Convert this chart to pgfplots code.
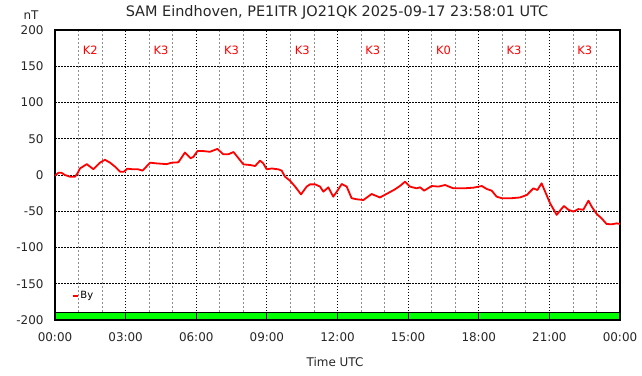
\documentclass[border=0pt]{standalone}
\usepackage{fontspec}
\setmainfont{DejaVu Sans}
\usepackage{pgfplots}
\pgfplotsset{compat=1.18}
\usepackage{pgfplotstable}

\pgfplotstableread{
h v
0.00 -1
0.14 3
0.28 3
0.42 0
0.64 -2.3
0.85 -2.3
0.95 2
1.06 9
1.35 15
1.63 8
1.91 17
2.12 21
2.34 17
2.55 11.5
2.76 4.6
2.93 4.6
3.07 8.7
3.33 7.8
3.54 7.8
3.72 6
4.04 17
4.32 16
4.74 15
4.96 17
5.24 17.5
5.52 31
5.76 23
5.88 25
6.05 33
6.30 33
6.58 32
6.90 36
7.15 28.5
7.36 28.5
7.58 31.7
7.75 25
8.00 14.7
8.28 13.8
8.50 12.4
8.71 19.8
8.85 16
8.99 7.8
9.20 9
9.49 7.8
9.63 6
9.77 -2.3
9.98 -7.8
10.20 -16
10.45 -26.7
10.69 -16
10.83 -12.9
11.05 -12.9
11.26 -16
11.40 -23
11.61 -17
11.82 -29.9
11.97 -23
12.18 -12.4
12.39 -16
12.60 -32
12.82 -33.5
13.10 -34.5
13.45 -26.2
13.80 -31
14.09 -26
14.44 -19.8
14.65 -15.2
14.87 -9.2
15.08 -16
15.36 -18.4
15.51 -17
15.68 -21.6
16.00 -15.2
16.29 -16
16.57 -13.8
16.92 -18.4
17.35 -18.4
17.77 -17.5
18.13 -15.2
18.34 -19.3
18.55 -21.6
18.76 -29.9
18.97 -32
19.40 -32
19.75 -31
20.04 -27.6
20.32 -18.4
20.49 -20.7
20.67 -11.5
20.82 -23
21.03 -39
21.31 -55
21.48 -48
21.62 -42.7
21.81 -48
22.02 -50.5
22.23 -47
22.44 -48
22.66 -35.4
22.80 -43.7
23.01 -53.8
23.22 -59.8
23.43 -67.6
23.65 -68
23.86 -66.7
24.00 -67.6
}\bydata

\begin{document}
\begin{tikzpicture}
\useasboundingbox (-55bp,-56bp) rectangle (587bp,320bp);
\begin{axis}[
  at={(0,0)}, anchor=south west,
  scale only axis, width=565bp, height=290bp,
  xmin=0, xmax=24, ymin=-200, ymax=200,
  xtick={0,3,...,24},
  xticklabels={00:00,03:00,06:00,09:00,12:00,15:00,18:00,21:00,00:00},
  minor xtick={1,2,4,5,7,8,10,11,13,14,16,17,19,20,22,23},
  ytick={-200,-150,...,200},
  yticklabels={-200,-150,-100,-50,0,50,100,150,200},
  grid=both,
  major grid style={black, line width=0.8bp, dash pattern=on 1.5bp off 1.5bp},
  minor grid style={black!45, line width=0.8bp, dash pattern=on 2bp off 2bp},
  major tick length=0, minor tick length=0,
  axis line style={black, line width=1.3bp},
  tick label style={font=\fontsize{12}{14}\selectfont, text=black!85},
  xticklabel style={yshift=-9bp},
  yticklabel style={xshift=-8bp},
  legend style={at={(axis cs:0.7,-167)}, anchor=west, draw=none, fill=none,
    font=\fontsize{10}{12}\selectfont, inner sep=0pt,
    /tikz/every even column/.style={column sep=0bp}},
  legend image code/.code={\draw[red, line width=1.8bp] (0bp,0bp) -- (5bp,0bp);},
  clip=false,
]
\addplot[fill=green, draw=black, line width=1.2bp, forget plot] coordinates {
  (0,-200) (0,-190) (3,-190) (3,-200) (3,-190) (6,-190) (6,-200) (6,-190)
  (9,-190) (9,-200) (9,-190) (12,-190) (12,-200) (12,-190) (15,-190) (15,-200)
  (15,-190) (18,-190) (18,-200) (18,-190) (21,-190) (21,-200) (21,-190)
  (24,-190) (24,-200)} -- cycle;
\addplot[red, line width=1.8bp, line join=round, mark=none] table[x=h, y=v] {\bydata};
\addlegendentry{By}
\foreach \xx/\kk in {1.5/K2, 4.5/K3, 7.5/K3, 10.5/K3, 13.5/K3, 16.5/K0, 19.5/K3, 22.5/K3} {
  \edef\temp{\noexpand\node[text=red, font=\noexpand\fontsize{11.5}{13}\noexpand\selectfont] at (axis cs:\xx,172) {\kk};}
  \temp
}
\end{axis}
\node[font=\fontsize{14.5}{17}\selectfont, text=black!85] at (282bp,308bp) {SAM Eindhoven, PE1ITR JO21QK 2025-09-17 23:58:01 UTC};
\node[font=\fontsize{12}{14}\selectfont, text=black!85] at (-24bp,305bp) {nT};
\node[font=\fontsize{12}{14}\selectfont, text=black!85] at (280bp,-42bp) {Time UTC};
\end{tikzpicture}
\end{document}
